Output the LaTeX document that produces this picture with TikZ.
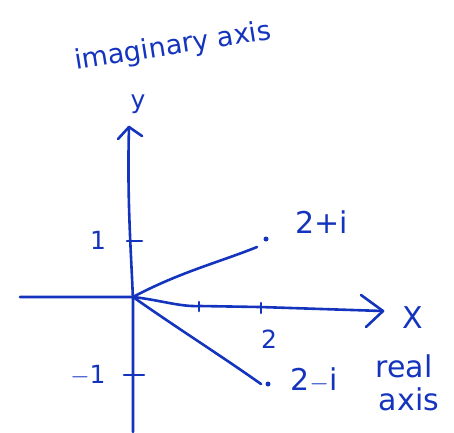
\documentclass[tikz,border=0pt]{standalone}
\usepackage{fontspec}
\setmainfont{DejaVu Sans}
\usetikzlibrary{arrows.meta}
\definecolor{ink}{RGB}{20,52,190}
\begin{document}
\begin{tikzpicture}[x=1pt,y=-1pt,
  pen/.style={draw=ink,line width=2.6pt,line cap=round,line join=round},
  lbl/.style={text=ink,inner sep=0pt,font=\fontsize{25}{27}\selectfont},
  big/.style={font=\fontsize{30}{32}\selectfont},
  dotmark/.style={circle,fill=ink,inner sep=0pt,minimum size=5pt}]
\useasboundingbox (0,0) rectangle (454,432);
\coordinate (O) at (133,297);
\coordinate (L) at (20,297);
\coordinate (R) at (383,311);
\coordinate (T) at (129,127);
\coordinate (B) at (133,432);
% axes
\draw[pen] (L) -- (O) .. controls (160,300) and (180,307) .. (200,306) -- (260,307) -- (R);
\draw[pen] (361,295) -- (R) -- (366,327);
\draw[pen] (B) -- (133,300) .. controls (131,250) and (127,200) .. (T);
\draw[pen] (118,139) -- (T) -- (142,136);
% ticks
\draw[pen] (199,302) -- (199,311);
\draw[pen] (261,303) -- (261,313);
\draw[pen] (127,241) -- (142,241);
\draw[pen] (124,375) -- (144,375);
% vectors
\node[dotmark] (p1) at (266,239) {};
\node[dotmark] (p2) at (268,384) {};
\coordinate (e1) at (257,247);
\coordinate (e2) at (261,384);
\draw[pen] (O) .. controls (180,272) and (220,262) .. (e1);
\draw[pen] (O) .. controls (180,330) and (220,355) .. (e2);
% labels
\node[lbl,rotate=9,font=\fontsize{27}{29}\selectfont] (ia) at (173,47) {imaginary axis};
\node[lbl] (ylab) at (138,104) {y};
\node[lbl,big] (xlab) at (413,318) {X};
\node[lbl] (one) at (98,240) {1};
\node[lbl] (mone) at (88,375) {$-$1};
\node[lbl] (two) at (269,339) {2};
\node[lbl,big] (zp) at (322,222) {2+i};
\node[lbl,big] (zm) at (314,380) {2$-$i};
\node[lbl,big] (real) at (404,366) {real};
\node[lbl,big] (axis) at (409,399) {axis};
\end{tikzpicture}
\end{document}
